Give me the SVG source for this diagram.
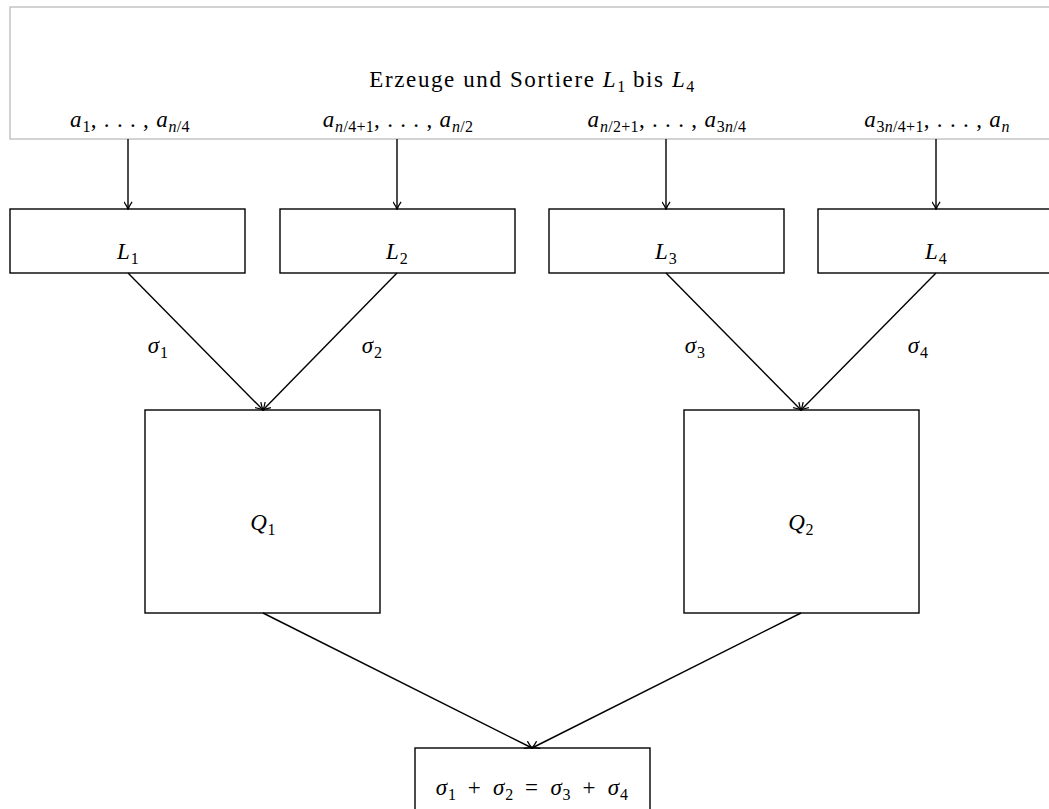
<svg xmlns="http://www.w3.org/2000/svg" width="1049" height="809" viewBox="0 0 1049 809">
<defs>
<marker id="arr" viewBox="0 0 10 10" refX="9" refY="5" markerWidth="9" markerHeight="9" orient="auto" markerUnits="userSpaceOnUse">
<path d="M1,0.5 Q6,4 9.5,5 Q6,6 1,9.5" fill="none" stroke="#000" stroke-width="1.4"/>
</marker>
<style>
.box{fill:#fff;stroke:#000;stroke-width:1.4}
.frame{fill:#fff;stroke:#c4c4c4;stroke-width:1.5}
.t{font-family:"Liberation Serif","DejaVu Serif",serif;font-size:23px;fill:#000;letter-spacing:0.8px}
.title{letter-spacing:1.6px}
.m{font-style:italic}
.s{font-size:16px;letter-spacing:0.3px}
.e{word-spacing:5px}
.c{stroke:#000;stroke-width:1.4;fill:none;marker-end:url(#arr)}
</style>
</defs>
<rect width="1049" height="809" fill="#fff"/>
<g id="source">
<rect class="frame" x="10" y="7" width="1060" height="132"/>
<text class="t title" x="532" y="87" text-anchor="middle">Erzeuge und Sortiere <tspan class="m">L</tspan><tspan class="s" dy="5">1</tspan><tspan dy="-5"> bis </tspan><tspan class="m">L</tspan><tspan class="s" dy="5">4</tspan></text>
<text class="t" x="130" y="127" text-anchor="middle"><tspan class="m">a</tspan><tspan class="s" dy="5">1</tspan><tspan dy="-5">, . . . , </tspan><tspan class="m">a</tspan><tspan class="s m" dy="5">n</tspan><tspan class="s">/4</tspan></text>
<text class="t" x="398" y="127" text-anchor="middle"><tspan class="m">a</tspan><tspan class="s m" dy="5">n</tspan><tspan class="s">/4+1</tspan><tspan dy="-5">, . . . , </tspan><tspan class="m">a</tspan><tspan class="s m" dy="5">n</tspan><tspan class="s">/2</tspan></text>
<text class="t" x="667" y="127" text-anchor="middle"><tspan class="m">a</tspan><tspan class="s m" dy="5">n</tspan><tspan class="s">/2+1</tspan><tspan dy="-5">, . . . , </tspan><tspan class="m">a</tspan><tspan class="s" dy="5">3</tspan><tspan class="s m">n</tspan><tspan class="s">/4</tspan></text>
<text class="t" x="937" y="127" text-anchor="middle"><tspan class="m">a</tspan><tspan class="s" dy="5">3</tspan><tspan class="s m">n</tspan><tspan class="s">/4+1</tspan><tspan dy="-5">, . . . , </tspan><tspan class="m">a</tspan><tspan class="s m" dy="5">n</tspan></text>
</g>
<g id="L1"><rect class="box" x="10" y="209" width="235" height="64"/><text class="t" x="128" y="259" text-anchor="middle"><tspan class="m">L</tspan><tspan class="s" dy="5">1</tspan></text></g>
<g id="L2"><rect class="box" x="280" y="209" width="235" height="64"/><text class="t" x="397" y="259" text-anchor="middle"><tspan class="m">L</tspan><tspan class="s" dy="5">2</tspan></text></g>
<g id="L3"><rect class="box" x="549" y="209" width="235" height="64"/><text class="t" x="666" y="259" text-anchor="middle"><tspan class="m">L</tspan><tspan class="s" dy="5">3</tspan></text></g>
<g id="L4"><rect class="box" x="818" y="209" width="240" height="64"/><text class="t" x="936" y="259" text-anchor="middle"><tspan class="m">L</tspan><tspan class="s" dy="5">4</tspan></text></g>
<g id="Q1"><rect class="box" x="145" y="410" width="235" height="203"/><text class="t" x="263" y="530" text-anchor="middle"><tspan class="m">Q</tspan><tspan class="s" dy="5">1</tspan></text></g>
<g id="Q2"><rect class="box" x="684" y="410" width="235" height="203"/><text class="t" x="801" y="530" text-anchor="middle"><tspan class="m">Q</tspan><tspan class="s" dy="5">2</tspan></text></g>
<g id="result"><rect class="box" x="415" y="748" width="235" height="70"/><text class="t e" x="532" y="795" text-anchor="middle"><tspan class="m">σ</tspan><tspan class="s" dy="5">1</tspan><tspan dy="-5"> + </tspan><tspan class="m">σ</tspan><tspan class="s" dy="5">2</tspan><tspan dy="-5"> = </tspan><tspan class="m">σ</tspan><tspan class="s" dy="5">3</tspan><tspan dy="-5"> + </tspan><tspan class="m">σ</tspan><tspan class="s" dy="5">4</tspan></text></g>
<g id="connectors">
<line class="c" x1="128" y1="139" x2="128" y2="209"/>
<line class="c" x1="397" y1="139" x2="397" y2="209"/>
<line class="c" x1="666" y1="139" x2="666" y2="209"/>
<line class="c" x1="936" y1="139" x2="936" y2="209"/>
<line class="c" x1="128" y1="273" x2="263" y2="410"/>
<line class="c" x1="397" y1="273" x2="263" y2="410"/>
<line class="c" x1="666" y1="273" x2="801" y2="410"/>
<line class="c" x1="936" y1="273" x2="801" y2="410"/>
<line class="c" x1="263" y1="613" x2="532" y2="748"/>
<line class="c" x1="801" y1="613" x2="532" y2="748"/>
<text class="t" x="158" y="353" text-anchor="middle"><tspan class="m">σ</tspan><tspan class="s" dy="5">1</tspan></text>
<text class="t" x="372" y="353" text-anchor="middle"><tspan class="m">σ</tspan><tspan class="s" dy="5">2</tspan></text>
<text class="t" x="695" y="353" text-anchor="middle"><tspan class="m">σ</tspan><tspan class="s" dy="5">3</tspan></text>
<text class="t" x="918" y="353" text-anchor="middle"><tspan class="m">σ</tspan><tspan class="s" dy="5">4</tspan></text>
</g>
</svg>
